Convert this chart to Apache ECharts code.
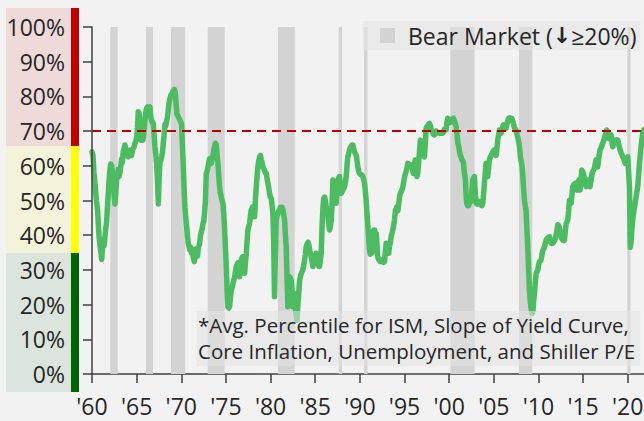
<!DOCTYPE html>
<html>
<head>
<meta charset="utf-8">
<script src="https://cdn.jsdelivr.net/npm/echarts@6/dist/echarts.min.js"></script>
<style>
  html, body { margin: 0; padding: 0; background: #f2f2f2; }
  #chart { width: 644px; height: 421px; }
</style>
</head>
<body>
<div id="chart"></div>
<script>
// Composite percentile (avg. of ISM, yield-curve slope, core inflation,
// unemployment and Shiller P/E), sampled as decimal years.
const indexDates = [
  1960.0, 1960.11, 1960.22, 1960.33, 1960.5, 1960.63, 1960.78, 1960.9, 1961.0, 1961.08,
  1961.17, 1961.26, 1961.35, 1961.45, 1961.55, 1961.64, 1961.73, 1961.82, 1961.92, 1962.01,
  1962.1, 1962.19, 1962.3, 1962.38, 1962.47, 1962.57, 1962.66, 1962.76, 1962.85, 1962.94,
  1963.05, 1963.13, 1963.22, 1963.32, 1963.4, 1963.5, 1963.6, 1963.69, 1963.8, 1963.88,
  1964.0, 1964.06, 1964.15, 1964.25, 1964.35, 1964.44, 1964.53, 1964.62, 1964.72, 1964.81,
  1964.9, 1965.0, 1965.1, 1965.18, 1965.28, 1965.37, 1965.43, 1965.5, 1965.6, 1965.7,
  1965.8, 1965.9, 1966.0, 1966.1, 1966.23, 1966.35, 1966.49, 1966.58, 1966.68, 1966.78,
  1966.87, 1966.95, 1967.05, 1967.15, 1967.24, 1967.33, 1967.43, 1967.52, 1967.61, 1967.7,
  1967.8, 1967.9, 1967.98, 1968.08, 1968.17, 1968.26, 1968.35, 1968.45, 1968.54, 1968.63,
  1968.73, 1968.86, 1968.99, 1969.1, 1969.21, 1969.3, 1969.36, 1969.44, 1969.51, 1969.6,
  1969.74, 1969.88, 1970.03, 1970.12, 1970.22, 1970.32, 1970.41, 1970.5, 1970.6, 1970.7,
  1970.78, 1970.88, 1970.97, 1971.06, 1971.16, 1971.25, 1971.35, 1971.46, 1971.55, 1971.62,
  1971.72, 1971.82, 1971.91, 1972.05, 1972.15, 1972.25, 1972.35, 1972.43, 1972.52, 1972.6,
  1972.7, 1972.8, 1972.9, 1972.99, 1973.08, 1973.17, 1973.26, 1973.36, 1973.45, 1973.55,
  1973.64, 1973.73, 1973.82, 1973.92, 1974.01, 1974.1, 1974.2, 1974.29, 1974.38, 1974.48,
  1974.57, 1974.67, 1974.76, 1974.85, 1974.95, 1975.04, 1975.13, 1975.22, 1975.32, 1975.41,
  1975.5, 1975.6, 1975.7, 1975.78, 1975.88, 1975.97, 1976.06, 1976.16, 1976.25, 1976.34,
  1976.44, 1976.53, 1976.62, 1976.72, 1976.81, 1976.9, 1977.0, 1977.09, 1977.18, 1977.28,
  1977.37, 1977.46, 1977.55, 1977.65, 1977.74, 1977.84, 1977.93, 1978.02, 1978.11, 1978.21,
  1978.3, 1978.4, 1978.49, 1978.58, 1978.68, 1978.77, 1978.86, 1978.96, 1979.05, 1979.14,
  1979.3, 1979.42, 1979.52, 1979.6, 1979.7, 1979.8, 1979.89, 1979.98, 1980.07, 1980.17,
  1980.26, 1980.35, 1980.44, 1980.52, 1980.63, 1980.72, 1980.82, 1980.92, 1981.01, 1981.1,
  1981.2, 1981.3, 1981.38, 1981.47, 1981.57, 1981.66, 1981.75, 1981.85, 1981.94, 1982.04,
  1982.13, 1982.22, 1982.31, 1982.4, 1982.5, 1982.6, 1982.69, 1982.78, 1982.87, 1982.96,
  1983.06, 1983.15, 1983.25, 1983.34, 1983.43, 1983.53, 1983.62, 1983.72, 1983.81, 1983.9,
  1983.99, 1984.1, 1984.2, 1984.3, 1984.4, 1984.5, 1984.6, 1984.74, 1984.84, 1984.92,
  1985.02, 1985.1, 1985.2, 1985.3, 1985.4, 1985.48, 1985.58, 1985.67, 1985.76, 1985.86,
  1985.95, 1986.04, 1986.14, 1986.23, 1986.32, 1986.4, 1986.5, 1986.6, 1986.7, 1986.8,
  1986.9, 1986.98, 1987.07, 1987.16, 1987.26, 1987.35, 1987.44, 1987.53, 1987.62, 1987.72,
  1987.81, 1987.9, 1988.0, 1988.1, 1988.19, 1988.28, 1988.38, 1988.47, 1988.56, 1988.65,
  1988.75, 1988.84, 1988.93, 1989.02, 1989.12, 1989.21, 1989.3, 1989.4, 1989.5, 1989.6,
  1989.68, 1989.77, 1989.86, 1989.96, 1990.06, 1990.15, 1990.24, 1990.33, 1990.43, 1990.52,
  1990.6, 1990.7, 1990.8, 1990.9, 1991.0, 1991.08, 1991.17, 1991.27, 1991.36, 1991.45,
  1991.55, 1991.64, 1991.73, 1991.83, 1991.92, 1992.0, 1992.1, 1992.2, 1992.29, 1992.38,
  1992.48, 1992.57, 1992.66, 1992.76, 1992.85, 1992.94, 1993.04, 1993.14, 1993.24, 1993.33,
  1993.42, 1993.5, 1993.6, 1993.68, 1993.77, 1993.88, 1993.99, 1994.07, 1994.14, 1994.25,
  1994.33, 1994.44, 1994.52, 1994.62, 1994.72, 1994.81, 1994.92, 1995.02, 1995.11, 1995.2,
  1995.28, 1995.37, 1995.46, 1995.55, 1995.64, 1995.74, 1995.82, 1995.92, 1996.0, 1996.1,
  1996.2, 1996.3, 1996.4, 1996.49, 1996.58, 1996.68, 1996.77, 1996.86, 1996.95, 1997.05,
  1997.14, 1997.23, 1997.32, 1997.42, 1997.5, 1997.6, 1997.7, 1997.8, 1997.9, 1997.98,
  1998.08, 1998.17, 1998.26, 1998.35, 1998.45, 1998.53, 1998.61, 1998.72, 1998.8, 1998.9,
  1999.0, 1999.1, 1999.2, 1999.28, 1999.38, 1999.47, 1999.56, 1999.66, 1999.75, 1999.84,
  1999.94, 2000.03, 2000.12, 2000.22, 2000.3, 2000.39, 2000.48, 2000.58, 2000.68, 2000.78,
  2000.88, 2000.98, 2001.08, 2001.17, 2001.25, 2001.34, 2001.42, 2001.5, 2001.6, 2001.7,
  2001.82, 2001.9, 2001.97, 2002.07, 2002.17, 2002.27, 2002.37, 2002.46, 2002.55, 2002.64,
  2002.74, 2002.83, 2002.92, 2003.02, 2003.12, 2003.2, 2003.3, 2003.39, 2003.48, 2003.58,
  2003.67, 2003.76, 2003.86, 2003.95, 2004.04, 2004.13, 2004.22, 2004.32, 2004.42, 2004.51,
  2004.6, 2004.7, 2004.81, 2004.9, 2004.98, 2005.07, 2005.16, 2005.26, 2005.35, 2005.44,
  2005.54, 2005.63, 2005.72, 2005.82, 2005.92, 2006.0, 2006.08, 2006.18, 2006.28, 2006.37,
  2006.47, 2006.57, 2006.67, 2006.77, 2006.86, 2006.94, 2007.01, 2007.12, 2007.23, 2007.32,
  2007.4, 2007.49, 2007.6, 2007.7, 2007.78, 2007.87, 2007.98, 2008.08, 2008.17, 2008.26,
  2008.35, 2008.43, 2008.52, 2008.61, 2008.7, 2008.8, 2008.9, 2008.99, 2009.1, 2009.2,
  2009.3, 2009.38, 2009.46, 2009.55, 2009.65, 2009.74, 2009.84, 2009.93, 2010.02, 2010.11,
  2010.2, 2010.3, 2010.4, 2010.49, 2010.58, 2010.67, 2010.76, 2010.86, 2010.95, 2011.05,
  2011.14, 2011.23, 2011.33, 2011.42, 2011.51, 2011.6, 2011.7, 2011.8, 2011.9, 2011.98,
  2012.08, 2012.17, 2012.26, 2012.35, 2012.45, 2012.54, 2012.63, 2012.73, 2012.82, 2012.91,
  2013.0, 2013.1, 2013.19, 2013.28, 2013.38, 2013.47, 2013.56, 2013.66, 2013.75, 2013.84,
  2013.94, 2014.04, 2014.14, 2014.23, 2014.33, 2014.42, 2014.52, 2014.59, 2014.66, 2014.76,
  2014.85, 2014.95, 2015.04, 2015.14, 2015.24, 2015.34, 2015.43, 2015.52, 2015.62, 2015.7,
  2015.78, 2015.9, 2016.01, 2016.1, 2016.18, 2016.27, 2016.36, 2016.45, 2016.55, 2016.64,
  2016.75, 2016.84, 2016.9, 2017.02, 2017.13, 2017.22, 2017.3, 2017.39, 2017.48, 2017.56,
  2017.65, 2017.75, 2017.87, 2017.96, 2018.04, 2018.13, 2018.22, 2018.32, 2018.42, 2018.52,
  2018.62, 2018.72, 2018.8, 2018.88, 2018.98, 2019.06, 2019.14, 2019.24, 2019.34, 2019.44,
  2019.55, 2019.64, 2019.74, 2019.84, 2019.92, 2020.0, 2020.1, 2020.19, 2020.28, 2020.37,
  2020.46, 2020.56, 2020.66, 2020.75, 2020.84, 2020.93, 2021.02, 2021.12, 2021.22, 2021.31,
  2021.4, 2021.49, 2021.58, 2021.68, 2021.78, 2021.85
];

const indexValues = [
  64, 63, 58, 55, 50, 47, 40, 37, 35, 33,
  36, 38.5, 37, 39.5, 42, 44, 48, 52, 56, 59,
  60.5, 60, 58, 56, 52, 49, 52, 56, 57, 59,
  57, 58, 60, 62, 61, 64, 65, 66, 64.5, 64.5,
  63, 62.6, 64, 64.5, 63.5, 63, 64.5, 65, 65.5, 66.5,
  67, 68, 71, 75.6, 75, 73, 68, 67.4, 68.5, 67.4,
  69, 72, 75, 76.5, 77, 76, 77, 74, 73, 72.5,
  72, 69, 65.5, 63, 60.7, 56, 49, 57, 61, 61.5,
  62.6, 64, 66.5, 69, 72, 71.5, 72.7, 74, 76, 78,
  79.4, 80.5, 81, 81.5, 82, 81.5, 80, 77, 75, 74.5,
  73.7, 73, 72, 66, 60, 53, 48, 45, 42.5, 39.5,
  37.7, 36.5, 35.7, 36.5, 34.8, 35.5, 33.5, 32.4, 34, 36,
  35.5, 34, 36.5, 37.5, 40, 41, 42, 43.4, 44, 46.3,
  50, 57.8, 58.5, 59.7, 61, 62, 61, 60.7, 62, 63,
  64.5, 65.5, 66.5, 66, 63, 60.7, 57, 54, 52, 51,
  50, 49, 46, 41.5, 36, 31, 24, 19.4, 19, 19.4,
  22, 24.2, 25, 26, 27, 28, 29.5, 31, 31.5, 32,
  30, 28, 30.5, 32.9, 33.5, 33.8, 31, 29, 32, 34.8,
  38.5, 41.5, 42.5, 43.4, 45.5, 47.3, 47.8, 48.2, 47, 45.3,
  50, 54, 57, 59.7, 61.5, 62.6, 63, 61.7, 61, 59.7,
  58.8, 58, 57.8, 56.5, 55, 53.5, 52, 51, 50.6, 48.5,
  46.3, 38, 22.3, 32, 44.4, 45.5, 46.3, 47, 47.3, 48,
  47.7, 48, 47.3, 46, 44.4, 40, 36.7, 27, 19.4, 24,
  28, 27.5, 27, 24, 19.4, 22, 23.2, 19, 16.5, 15.5,
  20, 23.2, 27, 28, 29, 29.5, 30, 31.5, 32.9, 34.5,
  36.7, 37.5, 38, 37, 35.5, 34.5, 33, 31, 32.5, 32.9,
  34, 34.8, 33.5, 32, 31, 31, 33, 34.8, 42, 48,
  50.5, 51, 50, 48.2, 47, 46.3, 44, 41.5, 42.5, 44.4,
  50, 55.9, 55.5, 54, 52, 49.2, 53, 55.9, 56.5, 56.9,
  54, 52, 52.5, 53, 53.5, 54, 55.5, 56.9, 60, 62.6,
  63.5, 64.6, 65.2, 65.5, 66, 66, 65, 64, 63.5, 63,
  61.5, 59.7, 58.5, 57.8, 57.5, 57.5, 57.2, 56.9, 56, 55,
  53, 50, 46, 42.5, 38.5, 35.7, 34.5, 34.8, 35, 38.5,
  41.5, 41.5, 40.5, 40.5, 37, 33.8, 33, 32.6, 32.4, 32.4,
  32.8, 32.5, 32.2, 32.4, 35, 37.7, 36, 35.5, 34.8, 37,
  38, 39.6, 40.5, 41.5, 42.5, 44.5, 47.3, 47.5, 48.2, 47,
  48.5, 51, 52, 52.5, 53, 53.8, 55.5, 57, 57.8, 58.5,
  59.5, 60.7, 60.5, 59.8, 60.2, 60.2, 59.7, 58.5, 57.8, 60,
  61.7, 58.5, 56.9, 58, 61, 64, 67.4, 67, 66.5, 64.6,
  63, 62.6, 66, 70.8, 71.3, 71.5, 72, 72.2, 71.5, 70.3,
  70, 69.5, 69, 68.9, 69.5, 70, 69.8, 69.5, 69.6, 69.4,
  69.5, 69.4, 69.6, 69.4, 69.8, 70.5, 70.2, 70.3, 72.5, 73.7,
  73.3, 73, 72.5, 72.7, 73.2, 73.5, 73.7, 73, 72.2, 71.3,
  69, 66.5, 65.5, 64, 63, 62.6, 61.7, 61.5, 61, 58,
  55.9, 51, 49.2, 48.5, 48.5, 49.2, 49.5, 50.1, 53, 55.9,
  56.5, 56.9, 52, 49.2, 49, 49.5, 49.7, 49.7, 49, 48.7,
  48.5, 49.2, 52, 55, 58, 60.7, 59, 56.9, 59.5, 61.7,
  62.5, 63, 63.6, 64, 64.4, 64.6, 63.5, 63, 65, 67.4,
  69, 70.3, 70, 69.4, 70.5, 71.3, 71.8, 71.5, 71, 70.8,
  72, 73, 73.7, 73.8, 73.5, 73.6, 73.7, 73, 71.8, 71,
  70.6, 70.3, 69, 68, 67, 65.5, 62.5, 61, 59.7, 56.5,
  53, 50.1, 48.5, 47.3, 42, 36.7, 30, 24, 20.5, 18.5,
  17.5, 18, 21, 23.2, 26.5, 29, 29.5, 30, 31.5, 32.4,
  32.5, 32.9, 34.5, 35.7, 36, 36.7, 37.5, 38.6, 39, 39.1,
  39.4, 39.6, 38.5, 37.7, 37.6, 37.7, 38, 38.5, 39.2, 40,
  41.5, 43, 42.8, 42, 40.8, 39.6, 39, 38.6, 38.4, 38.6,
  41, 43.4, 43.8, 44.4, 47, 50.1, 49.8, 49.2, 51.5, 54,
  54.5, 54.8, 55, 54, 53, 54.5, 55.9, 54.5, 53, 56,
  58.8, 58.3, 57.8, 56.5, 55, 54, 55, 55.9, 55.2, 54.5,
  54, 56, 57.8, 58.4, 58.8, 59.3, 60.5, 61.7, 60.7, 59.7,
  62, 63.8, 64.6, 65.2, 66, 66.7, 67.2, 67.9, 68.8, 69.6,
  70.3, 69, 67.9, 68.2, 68.6, 68.9, 67, 65.5, 66.5, 67,
  67.4, 67.4, 67.5, 67.4, 66.2, 65.5, 64.6, 63.8, 63.2, 62.6,
  62, 61.2, 60.7, 61.5, 62.2, 62.6, 58, 54, 36.5, 38,
  41.5, 44.4, 46.5, 48.2, 49.5, 51, 52.5, 54, 57.5, 60.7,
  63, 65.5, 67.5, 69.4, 70.3, 70.5
];

// Bear markets (S&P 500 decline of 20% or more), start/end in decimal years
const bearStart = [1962.05, 1966.05, 1968.84, 1972.96, 1980.82, 1987.63, 1990.48, 2000.13, 2007.81, 2019.95];
const bearEnd   = [1962.87, 1966.83, 1970.44, 1974.87, 1982.70, 1988.00, 1990.85, 2002.85, 2009.31, 2020.31];

const threshold = 70;

const xTickLabels = ["'60", "'65", "'70", "'75", "'80", "'85", "'90", "'95", "'00", "'05", "'10", "'15", "'20"];

// Signal zones on the left strip: low / mid / high percentile ranges
const zoneFrom = [-5.2, 34.9, 65.7];
const zoneTo   = [34.9, 65.7, 105.5];
const zoneFill = ['#dce5dd', '#f3f3dc', '#efdada'];
const zoneBar  = ['#006400', '#ffff00', '#c00000'];

const noteLines = [
  '*Avg. Percentile for ISM, Slope of Yield Curve,',
  'Core Inflation, Unemployment, and Shiller P/E'
];

const bearName = 'Bear Market (↓≥20%)';
const FONT = 'Open Sans';
const TEXT = '#262626';

const lineData = indexDates.map((d, i) => [d, indexValues[i]]);

const bearAreas = bearStart.map((s, i) => [
  { xAxis: s, yAxis: 0 },
  { xAxis: bearEnd[i], yAxis: 100 }
]);

const zoneAreas = [];
zoneFrom.forEach((lo, i) => {
  zoneAreas.push([
    { xAxis: 0, yAxis: lo, itemStyle: { color: zoneFill[i] } },
    { xAxis: 65, yAxis: zoneTo[i] }
  ]);
  zoneAreas.push([
    { xAxis: 65, yAxis: lo, itemStyle: { color: zoneBar[i] } },
    { xAxis: 73, yAxis: zoneTo[i] }
  ]);
});

const chart = echarts.init(document.getElementById('chart'), null, { renderer: 'svg' });

chart.setOption({
  backgroundColor: '#f2f2f2',
  animation: false,
  textStyle: { fontFamily: FONT },
  title: {
    text: noteLines.join('\n'),
    left: 197,
    top: 311,
    padding: [1, 5, 2, 1],
    backgroundColor: 'rgba(228,228,228,0.55)',
    textStyle: {
      fontFamily: FONT,
      fontSize: 20.5,
      fontWeight: 'normal',
      lineHeight: 26,
      color: TEXT
    },
    z: 10
  },
  legend: {
    left: 363,
    top: 21,
    padding: [3, 4, 3, 17],
    itemWidth: 15,
    itemHeight: 15,
    backgroundColor: 'rgba(229,229,229,0.6)',
    selectedMode: false,
    data: [{ name: bearName, icon: 'rect', itemStyle: { color: '#d3d3d3' } }],
    formatter: () => '{n|Bear Market (}{a|↓}{n|≥20%)}',
    textStyle: {
      padding: [0, 0, 0, 8],
      rich: {
        n: { fontFamily: FONT, fontSize: 23, color: TEXT },
        a: { fontFamily: 'DejaVu Sans', fontSize: 22, fontWeight: 'bold', color: TEXT }
      }
    },
    z: 10
  },
  grid: [
    { left: 92, right: 0, top: 27, bottom: 47, outerBoundsMode: 'none', containLabel: false },
    { left: 6, width: 73, top: 8, height: 384, outerBoundsMode: 'none', containLabel: false }
  ],
  xAxis: [
    {
      type: 'value',
      gridIndex: 0,
      min: 1960,
      max: 2021.82,
      interval: 5,
      splitLine: { show: false },
      axisLine: { show: true, onZero: false, lineStyle: { color: '#404040', width: 1.5 } },
      axisTick: { show: true, length: 9, lineStyle: { color: '#404040', width: 1.5 } },
      axisLabel: {
        margin: 20,
        fontSize: 23,
        fontFamily: FONT,
        color: TEXT,
        showMaxLabel: false,
        formatter: v => {
          const k = Math.round((v - 1960) / 5);
          return Math.abs(v - 1960 - k * 5) < 1e-6 ? (xTickLabels[k] || '') : '';
        }
      }
    },
    { type: 'value', gridIndex: 1, min: 0, max: 73, show: false }
  ],
  yAxis: [
    {
      type: 'value',
      gridIndex: 0,
      min: 0,
      max: 100,
      interval: 10,
      z: 8,
      splitLine: { show: false },
      axisLine: { show: true, onZero: false, lineStyle: { color: '#404040', width: 1.5 } },
      axisTick: { show: true, length: 9, lineStyle: { color: '#404040', width: 1.5 } },
      axisLabel: {
        margin: 27,
        fontSize: 23,
        fontFamily: FONT,
        color: TEXT,
        formatter: v => v + '%'
      }
    },
    { type: 'value', gridIndex: 1, min: -5.2, max: 105.5, show: false }
  ],
  series: [
    {
      name: 'zones',
      type: 'line',
      xAxisIndex: 1,
      yAxisIndex: 1,
      data: [],
      silent: true,
      z: 0,
      markArea: { silent: true, data: zoneAreas }
    },
    {
      name: bearName,
      type: 'bar',
      xAxisIndex: 0,
      yAxisIndex: 0,
      data: [],
      itemStyle: { color: '#d3d3d3' },
      z: 1,
      markArea: {
        silent: true,
        itemStyle: { color: '#d3d3d3' },
        data: bearAreas
      }
    },
    {
      name: 'Composite percentile',
      type: 'line',
      xAxisIndex: 0,
      yAxisIndex: 0,
      data: lineData,
      showSymbol: false,
      symbol: 'none',
      smooth: false,
      z: 3,
      lineStyle: { color: '#4cbb62', width: 5.5, join: 'round', cap: 'round' },
      markLine: {
        silent: true,
        symbol: 'none',
        label: { show: false },
        lineStyle: { color: '#c00000', width: 2.2, type: [9, 6] },
        data: [{ yAxis: threshold }]
      }
    }
  ]
});
</script>
</body>
</html>
